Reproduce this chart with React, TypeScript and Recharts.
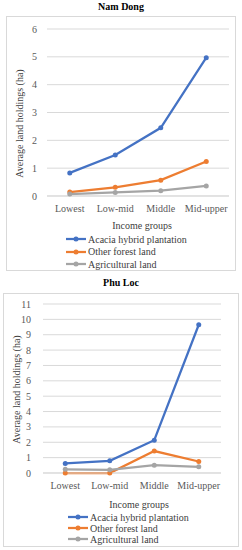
import { LineChart, Line, XAxis, YAxis, CartesianGrid, Legend } from 'recharts';

const categories = ['Lowest', 'Low-mid', 'Middle', 'Mid-upper'];
const seriesNames = ['Acacia hybrid plantation', 'Other forest land', 'Agricultural land'];

const namDongAcacia = [0.83, 1.47, 2.45, 4.97];
const namDongOtherForest = [0.14, 0.31, 0.57, 1.24];
const namDongAgricultural = [0.07, 0.13, 0.19, 0.36];
const namDongTicks = [0, 1, 2, 3, 4, 5, 6];

const phuLocAcacia = [0.62, 0.79, 2.13, 9.65];
const phuLocOtherForest = [0.0, 0.0, 1.43, 0.75];
const phuLocAgricultural = [0.24, 0.21, 0.51, 0.4];
const phuLocTicks = [0, 1, 2, 3, 4, 5, 6, 7, 8, 9, 10, 11];

const COLORS = ['#4472C4', '#ED7D31', '#A5A5A5'];
const FONT = '"Liberation Serif", "DejaVu Serif", serif';
const GRID = '#D9D9D9';

const buildRows = (a: number[], b: number[], c: number[]) =>
  categories.map((name, i) => ({ name, acacia: a[i], other: b[i], agri: c[i] }));

interface PanelProps {
  title: string;
  titleTop: number;
  left: number;
  top: number;
  width: number;
  height: number;
  margin: { top: number; right: number; bottom: number; left: number };
  yWidth: number;
  yTickMargin: number;
  ticks: number[];
  data: { name: string; acacia: number; other: number; agri: number }[];
  yLabelDy: number;
  xLabelDy: number;
  xLabelDx: number;
  legendTop: number;
  legendLeft: number;
  legendRow: number;
}

function LegendBox({ top, left, row }: { top: number; left: number; row: number }) {
  return (
    <div style={{ position: 'absolute', top, left }}>
      {seriesNames.map((n, i) => (
        <div key={n} style={{ height: row, display: 'flex', alignItems: 'center' }}>
          <svg width={22} height={8}>
            <line x1={0} y1={4} x2={20} y2={4} stroke={COLORS[i]} strokeWidth={2.25} />
            <circle cx={10} cy={4} r={2.5} fill={COLORS[i]} />
          </svg>
          <span style={{ fontFamily: FONT, fontSize: 10, color: '#404040', whiteSpace: 'nowrap' }}>{n}</span>
        </div>
      ))}
    </div>
  );
}

function Panel(p: PanelProps) {
  const keys = ['acacia', 'other', 'agri'];
  const plotW = p.width - p.margin.left - p.margin.right - p.yWidth;
  const pad = plotW / 8;
  return (
    <>
      <div
        style={{
          position: 'absolute',
          top: p.titleTop,
          left: 0,
          width: 242,
          textAlign: 'center',
          fontFamily: FONT,
          fontWeight: 'bold',
          fontSize: 10,
          color: '#000',
        }}
      >
        {p.title}
      </div>
      <div
        style={{
          position: 'absolute',
          left: p.left,
          top: p.top,
          width: p.width,
          height: p.height,
          border: `1px solid ${GRID}`,
          boxSizing: 'border-box',
        }}
      >
        <div style={{ position: 'absolute', left: -1, top: -1 }}>
          <LineChart width={p.width} height={p.height} data={p.data} margin={p.margin}>
            <CartesianGrid vertical={false} stroke={GRID} />
            <XAxis
              dataKey="name"
              padding={{ left: pad, right: pad }}
              axisLine={{ stroke: GRID }}
              tickLine={false}
              tickSize={0}
              tickMargin={9}
              height={30}
              tick={{ fontFamily: FONT, fontSize: 10, fill: '#595959' }}
              label={{
                content: ({ viewBox }: any) => (
                  <text
                    x={viewBox.x + viewBox.width / 2 + p.xLabelDx}
                    y={viewBox.y + p.xLabelDy}
                    textAnchor="middle"
                    fontFamily={FONT}
                    fontSize={10}
                    fill="#404040"
                  >
                    Income groups
                  </text>
                ),
              }}
            />
            <YAxis
              width={p.yWidth}
              domain={[p.ticks[0], p.ticks[p.ticks.length - 1]]}
              ticks={p.ticks}
              interval={0}
              axisLine={false}
              tickLine={false}
              tickSize={0}
              tickMargin={p.yTickMargin}
              tick={{ fontFamily: FONT, fontSize: 10, fill: '#595959' }}
              label={{
                content: ({ viewBox }: any) => {
                  const cx = 13;
                  const cy = viewBox.y + viewBox.height / 2 + p.yLabelDy;
                  return (
                    <text
                      x={cx}
                      y={cy}
                      transform={`rotate(-90, ${cx}, ${cy})`}
                      textAnchor="middle"
                      dominantBaseline="central"
                      fontFamily={FONT}
                      fontSize={10}
                      fill="#404040"
                    >
                      Average land holdings (ha)
                    </text>
                  );
                },
              }}
            />
            <Legend
              layout="horizontal"
              verticalAlign="middle"
              align="center"
              wrapperStyle={{ top: 0, left: 0, width: 0, height: 0 }}
              content={() => null}
            />
            {keys.map((k, i) => (
              <Line
                key={k}
                dataKey={k}
                name={seriesNames[i]}
                stroke={COLORS[i]}
                strokeWidth={2.25}
                dot={{ r: 2.5, fill: COLORS[i], stroke: COLORS[i], strokeWidth: 0 }}
                isAnimationActive={false}
              />
            ))}
          </LineChart>
          <LegendBox top={p.legendTop} left={p.legendLeft} row={p.legendRow} />
        </div>
      </div>
    </>
  );
}

export default function App() {
  return (
    <div style={{ position: 'absolute', left: 0, top: 0, width: 242, height: 550, background: '#fff' }}>
      <Panel
        title="Nam Dong"
        titleTop={1}
        left={6}
        top={16}
        width={230}
        height={255}
        margin={{ top: 13, right: 7, bottom: 45, left: 0 }}
        yWidth={41}
        yTickMargin={10}
        ticks={namDongTicks}
        data={buildRows(namDongAcacia, namDongOtherForest, namDongAgricultural)}
        yLabelDy={11}
        xLabelDx={4}
        xLabelDy={33}
        legendTop={217}
        legendLeft={60}
        legendRow={12.5}
      />
      <Panel
        title="Phu Loc"
        titleTop={277}
        left={3}
        top={293}
        width={236}
        height={254}
        margin={{ top: 11, right: 18, bottom: 44, left: 0 }}
        yWidth={40}
        yTickMargin={12}
        ticks={phuLocTicks}
        data={buildRows(phuLocAcacia, phuLocOtherForest, phuLocAgricultural)}
        yLabelDy={1}
        xLabelDx={7}
        xLabelDy={35}
        legendTop={218.5}
        legendLeft={65}
        legendRow={11}
      />
    </div>
  );
}
